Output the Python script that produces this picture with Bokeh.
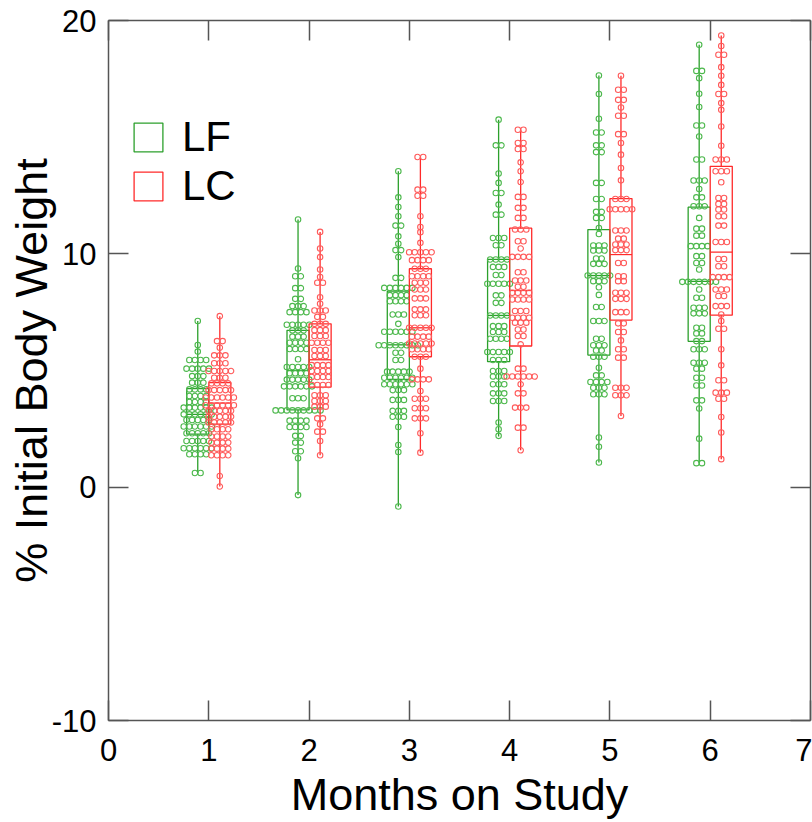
import numpy as np
from bokeh.plotting import figure
from bokeh.models import Range1d, LinearAxis, FixedTicker, Legend, LegendItem, CustomLabelingPolicy
from bokeh.embed import file_html
from bokeh.resources import INLINE

months = [1, 2, 3, 4, 5, 6]
x_ticks = [0, 1, 2, 3, 4, 5, 6, 7]
y_ticks = [-10, 0, 10, 20]
y_tick_labels = {-10: "-10", 0: "0", 10: "10", 20: "20"}
groups = ["LF", "LC"]

# Box statistics (whiskers run to min / max)
lf_min = [0.61, -0.34, -0.83, 2.17, 1.06, 1.03]
lf_q1 = [2.27, 3.31, 4.62, 5.38, 5.66, 6.25]
lf_med = [3.12, 5.00, 6.10, 7.36, 9.07, 8.82]
lf_q3 = [4.22, 6.72, 8.40, 9.76, 11.04, 12.00]
lf_max = [7.12, 11.47, 13.54, 15.75, 17.64, 18.96]
lc_min = [0.03, 1.37, 1.48, 1.58, 3.05, 1.20]
lc_q1 = [2.70, 4.29, 5.59, 6.05, 7.16, 7.37]
lc_med = [3.60, 5.46, 6.83, 8.43, 9.97, 10.07]
lc_q3 = [4.48, 7.00, 9.36, 11.10, 12.37, 13.75]
lc_max = [7.33, 10.94, 14.15, 15.32, 17.63, 19.36]

# Individual values: level and number of subjects at that level
lf1_vals = [7.12, 6.09, 5.81, 5.45, 5.08, 4.76, 4.48, 4.19, 3.91, 3.65, 3.41, 3.12, 2.88, 2.60, 2.31, 1.98, 1.67, 1.41, 0.61]
lf1_counts = [1, 1, 1, 4, 5, 3, 3, 4, 4, 4, 6, 6, 5, 6, 5, 5, 6, 4, 2]
lc1_vals = [7.33, 6.26, 5.98, 5.65, 5.31, 4.98, 4.69, 4.45, 4.16, 3.84, 3.51, 3.27, 3.02, 2.77, 2.48, 2.17, 1.91, 1.65, 1.37, 0.48, 0.03]
lc1_counts = [1, 2, 1, 3, 3, 5, 3, 4, 5, 6, 6, 5, 5, 5, 4, 4, 4, 4, 4, 1, 1]

lf2_vals = [11.47, 9.37, 9.04, 8.53, 8.07, 7.76, 7.50, 6.96, 6.72, 6.45, 6.19, 5.92, 5.48, 5.15, 4.88, 4.61, 4.32, 3.81, 3.29, 2.85, 2.58, 2.20, 1.91, 1.54, 1.24, -0.34]
lf2_counts = [1, 1, 2, 2, 2, 3, 4, 5, 3, 3, 4, 4, 1, 5, 4, 5, 6, 3, 9, 4, 4, 2, 2, 2, 1, 1]
lc2_vals = [10.94, 10.23, 9.86, 9.33, 9.01, 8.76, 8.14, 7.86, 7.57, 7.30, 7.00, 6.73, 6.48, 6.19, 5.88, 5.62, 5.23, 4.98, 4.72, 4.38, 3.94, 3.69, 3.45, 2.95, 2.70, 2.38, 1.98, 1.37]
lc2_counts = [1, 1, 1, 1, 1, 2, 1, 1, 3, 2, 3, 3, 3, 4, 3, 3, 4, 4, 4, 4, 3, 3, 3, 2, 1, 2, 1, 1]

lf3_vals = [13.54, 12.42, 12.01, 11.61, 11.21, 10.75, 10.43, 10.16, 9.86, 8.97, 8.54, 8.23, 7.97, 7.40, 7.00, 6.66, 6.08, 5.76, 5.45, 4.95, 4.69, 4.41, 4.16, 3.74, 3.27, 3.02, 2.58, 1.81, 1.51, -0.83]
lf3_counts = [1, 1, 1, 1, 2, 1, 1, 2, 1, 2, 6, 4, 4, 3, 1, 6, 8, 2, 2, 5, 6, 6, 3, 3, 3, 3, 1, 1, 1, 1]
lc3_vals = [14.15, 12.75, 12.49, 11.61, 11.15, 10.93, 10.47, 10.07, 9.73, 9.36, 9.04, 8.76, 8.47, 8.09, 7.62, 7.37, 6.83, 6.45, 6.16, 5.91, 5.59, 5.08, 4.62, 4.12, 3.79, 3.38, 2.95, 2.31, 1.48]
lc3_counts = [2, 2, 2, 1, 1, 1, 1, 5, 4, 3, 4, 3, 3, 3, 3, 3, 5, 4, 5, 4, 3, 1, 4, 1, 3, 3, 3, 1, 1]

lf4_vals = [15.75, 14.65, 13.44, 13.04, 12.61, 12.11, 11.68, 10.68, 10.37, 9.76, 9.44, 9.09, 8.72, 8.22, 7.90, 7.36, 6.90, 6.65, 6.36, 5.79, 5.45, 4.98, 4.74, 4.41, 4.02, 3.69, 2.77, 2.48, 2.20]
lf4_counts = [1, 2, 1, 1, 2, 1, 2, 3, 2, 4, 3, 2, 5, 2, 2, 4, 3, 3, 4, 5, 3, 3, 3, 3, 3, 3, 1, 1, 1]
lc4_vals = [15.32, 14.75, 14.49, 13.92, 13.54, 13.08, 12.44, 11.97, 11.54, 11.04, 10.54, 10.23, 9.87, 9.21, 8.86, 8.59, 8.33, 8.04, 7.55, 7.26, 7.05, 6.76, 6.48, 6.12, 5.08, 4.74, 4.41, 4.02, 3.41, 2.55, 1.58]
lc4_counts = [2, 2, 2, 1, 1, 1, 2, 2, 2, 3, 2, 1, 4, 2, 3, 2, 4, 4, 3, 4, 3, 2, 2, 1, 2, 6, 1, 2, 3, 2, 1]

lf5_vals = [17.64, 16.85, 15.79, 15.20, 14.65, 14.36, 13.04, 12.35, 11.80, 11.54, 11.11, 10.85, 10.36, 10.14, 9.80, 9.57, 9.07, 8.83, 8.57, 8.24, 7.72, 7.12, 6.36, 6.08, 5.86, 5.59, 5.12, 4.79, 4.51, 4.26, 3.98, 2.13, 1.73, 1.06]
lf5_counts = [1, 1, 1, 2, 2, 2, 2, 2, 2, 2, 1, 1, 3, 3, 2, 3, 5, 3, 1, 1, 2, 3, 2, 3, 2, 3, 1, 2, 4, 3, 3, 1, 1, 1]
lc5_vals = [17.63, 17.03, 16.60, 16.27, 15.92, 15.13, 14.75, 14.25, 13.68, 13.15, 12.35, 11.91, 11.00, 10.65, 10.40, 10.16, 9.61, 9.04, 8.83, 8.33, 8.07, 7.50, 7.02, 6.65, 6.29, 5.91, 5.55, 4.26, 3.94, 3.05]
lc5_counts = [1, 2, 2, 1, 2, 2, 1, 1, 1, 1, 3, 5, 3, 2, 3, 3, 2, 2, 2, 3, 3, 3, 2, 2, 1, 2, 2, 3, 3, 1]

lf6_vals = [18.96, 17.84, 17.53, 16.86, 16.29, 15.50, 15.03, 14.04, 13.14, 12.78, 12.42, 12.04, 11.54, 11.08, 10.78, 10.33, 9.90, 9.61, 9.33, 8.80, 8.47, 8.12, 7.69, 7.45, 6.83, 6.59, 6.26, 5.91, 5.33, 5.08, 4.69, 4.36, 3.72, 3.37, 2.08, 1.03]
lf6_counts = [1, 2, 1, 1, 1, 2, 1, 2, 3, 1, 2, 3, 1, 2, 2, 4, 2, 2, 1, 7, 1, 2, 3, 3, 2, 2, 2, 3, 3, 2, 2, 2, 2, 1, 1, 2]
lc6_vals = [19.36, 18.91, 18.53, 18.00, 17.63, 17.24, 16.85, 16.46, 16.17, 15.46, 14.63, 14.04, 13.54, 13.07, 12.39, 12.14, 11.90, 11.61, 11.21, 10.51, 9.78, 9.47, 9.00, 8.47, 8.19, 7.76, 7.40, 7.12, 6.79, 5.91, 5.22, 4.58, 4.05, 3.79, 3.01, 2.34, 1.20]
lc6_counts = [1, 1, 2, 1, 1, 1, 2, 1, 1, 1, 1, 3, 3, 1, 2, 2, 2, 2, 2, 3, 2, 2, 4, 3, 2, 3, 1, 1, 2, 1, 1, 2, 3, 2, 1, 1, 1]

lf_vals = [lf1_vals, lf2_vals, lf3_vals, lf4_vals, lf5_vals, lf6_vals]
lf_counts = [lf1_counts, lf2_counts, lf3_counts, lf4_counts, lf5_counts, lf6_counts]
lc_vals = [lc1_vals, lc2_vals, lc3_vals, lc4_vals, lc5_vals, lc6_vals]
lc_counts = [lc1_counts, lc2_counts, lc3_counts, lc4_counts, lc5_counts, lc6_counts]

GREEN_LINE = "#2ca02c"
GREEN_DOT = "#4cb84c"
RED_LINE = "#ff2a2a"
RED_DOT = "#ff5a5a"
AXIS = "#555555"
FONT = "Liberation Sans"

OFFSET = 0.11
BOX_W = 0.22
DX = 0.056

p = figure(width=812, height=822, x_range=Range1d(0, 7), y_range=Range1d(-10, 20),
           output_backend="svg", toolbar_location=None,
           min_border_left=108, min_border_right=2, min_border_top=20, min_border_bottom=100,
           x_axis_label="Months on Study", y_axis_label="% Initial Body Weight")
p.xgrid.visible = False
p.ygrid.visible = False
p.outline_line_color = None
p.background_fill_color = "white"
p.border_fill_color = "white"

no_labels = CustomLabelingPolicy(code="for (const i of indices) indices.unset(i); return indices")
p.add_layout(LinearAxis(major_label_policy=no_labels), "above")
p.add_layout(LinearAxis(major_label_policy=no_labels), "right")

for ax in p.xaxis:
    ax.ticker = FixedTicker(ticks=x_ticks)
for ax in p.yaxis:
    ax.ticker = FixedTicker(ticks=y_ticks)
for ax in p.axis:
    ax.axis_line_color = AXIS
    ax.axis_line_width = 1.5
    ax.major_tick_line_color = AXIS
    ax.major_tick_line_width = 1.5
    ax.major_tick_in = 20
    ax.major_tick_out = 0
    ax.minor_tick_line_color = None
    ax.major_label_text_font = FONT
    ax.major_label_text_color = "black"
    ax.axis_label_text_font = FONT
    ax.axis_label_text_font_style = "normal"
    ax.axis_label_text_color = "black"

for ax in p.above + p.right:
    ax.major_label_text_font_size = "0px"
    ax.major_label_standoff = 0

p.left[0].major_label_overrides = y_tick_labels

p.below[0].major_label_text_font_size = "31px"
p.below[0].major_label_standoff = 18
p.below[0].axis_label_text_font_size = "45px"
p.below[0].axis_label_standoff = 5
p.left[0].major_label_text_font_size = "31px"
p.left[0].major_label_standoff = 12
p.left[0].axis_label_text_font_size = "45px"
p.left[0].axis_label_standoff = -8

box_renderers = {}
specs = [
    ("LF", -OFFSET, lf_min, lf_q1, lf_med, lf_q3, lf_max, lf_vals, lf_counts, GREEN_LINE, GREEN_DOT),
    ("LC", OFFSET, lc_min, lc_q1, lc_med, lc_q3, lc_max, lc_vals, lc_counts, RED_LINE, RED_DOT),
]
for name, off, mn, q1, med, q3, mx, vals, counts, lcol, dcol in specs:
    centers = np.array(months, dtype=float) + off
    p.segment(x0=centers, y0=q3, x1=centers, y1=mx, line_color=lcol, line_width=1.3)
    p.segment(x0=centers, y0=mn, x1=centers, y1=q1, line_color=lcol, line_width=1.3)
    r = p.quad(left=centers - BOX_W / 2, right=centers + BOX_W / 2, bottom=q1, top=q3,
               fill_color=None, line_color=lcol, line_width=1.3)
    box_renderers[name] = r
    p.segment(x0=centers - BOX_W / 2, y0=med, x1=centers + BOX_W / 2, y1=med,
              line_color=lcol, line_width=1.3)
    xs, ys = [], []
    for c, v_list, n_list in zip(centers, vals, counts):
        for v, n in zip(v_list, n_list):
            for i in range(n):
                xs.append(c + (i - (n - 1) / 2) * DX)
                ys.append(v)
    p.scatter(x=xs, y=ys, marker="circle", size=5.5, fill_color=None,
              line_color=dcol, line_width=1.1)

legend = Legend(items=[LegendItem(label=g, renderers=[box_renderers[g]]) for g in groups],
                location=(22, 510), orientation="vertical",
                glyph_width=36, glyph_height=36, label_standoff=16,
                label_text_font=FONT, label_text_font_size="42px", label_text_color="black",
                padding=10, spacing=1, margin=0,
                border_line_color=None, background_fill_alpha=0)
p.add_layout(legend)

open("out.html", "w").write(file_html(p, INLINE))
